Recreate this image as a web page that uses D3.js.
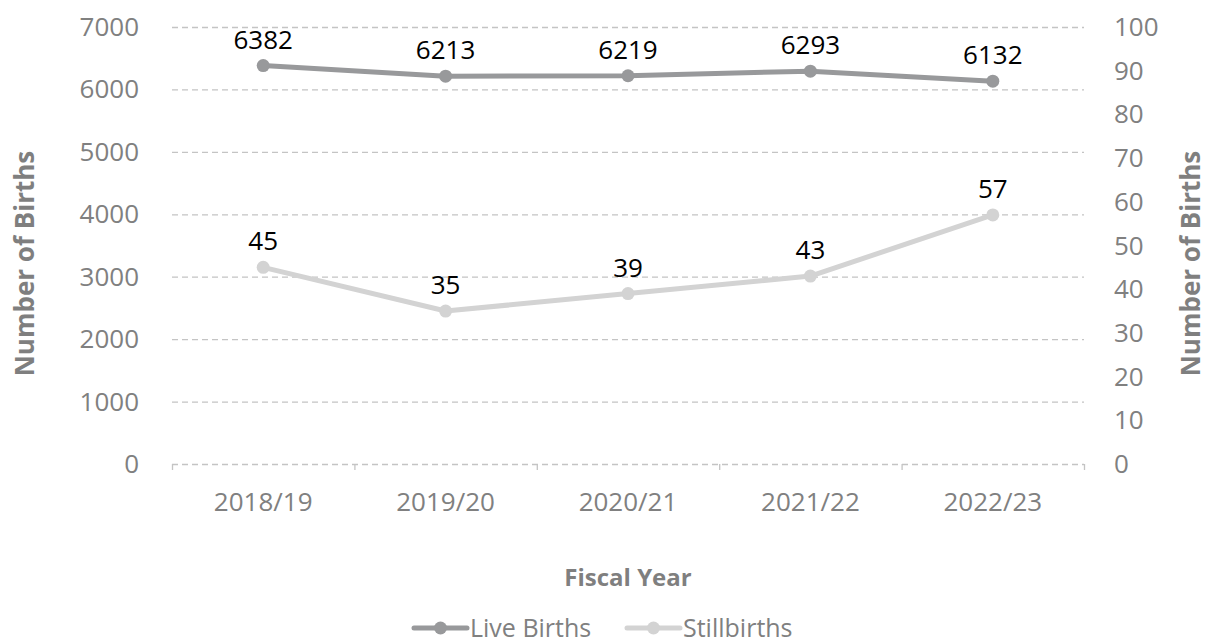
<!DOCTYPE html>
<html>
<head>
<meta charset="utf-8">
<script src="https://cdn.jsdelivr.net/npm/d3@7"></script>
<style>
  body { margin: 0; background: #fff; }
  text { font-family: "Open Sans", "Noto Sans", sans-serif; }
</style>
</head>
<body>
<div id="chart"></div>
<script>
const years = ["2018/19", "2019/20", "2020/21", "2021/22", "2022/23"];
const liveBirths = [6382, 6213, 6219, 6293, 6132];
const stillbirths = [45, 35, 39, 43, 57];
const leftTicks = [0, 1000, 2000, 3000, 4000, 5000, 6000, 7000];
const rightTicks = [0, 10, 20, 30, 40, 50, 60, 70, 80, 90, 100];

const COLORS = {
  LIVE: "#98999b",
  STILL: "#d3d3d3",
  GRID: "#c4c4c4",
  TICK_TEXT: "#808080",
  TITLE: "#7f7f7f",
};

const DIM = {
  WIDTH: 1207,
  HEIGHT: 643,
  LEFT: 172,
  RIGHT: 1084,
  TOP: 27,
  BOTTOM: 464,
};

const svg = d3.select("#chart")
  .append("svg")
  .attr("width", DIM.WIDTH)
  .attr("height", DIM.HEIGHT);

const x = d3.scaleBand().domain(years).range([DIM.LEFT, DIM.RIGHT]);
const yLeft = d3.scaleLinear().domain([0, 7000]).range([DIM.BOTTOM, DIM.TOP]);
const yRight = d3.scaleLinear().domain([0, 100]).range([DIM.BOTTOM, DIM.TOP]);
const cx = (d) => x(d) + x.bandwidth() / 2;

// gridlines
svg.append("g")
  .selectAll("line")
  .data(leftTicks)
  .enter()
  .append("line")
  .attr("x1", DIM.LEFT)
  .attr("x2", DIM.RIGHT)
  .attr("y1", (d) => yLeft(d) + 0.5)
  .attr("y2", (d) => yLeft(d) + 0.5)
  .attr("stroke", COLORS.GRID)
  .attr("stroke-width", 1.3)
  .attr("stroke-dasharray", "6,4");

// category ticks on the x axis
const boundaries = years.map((d) => x(d)).concat([DIM.RIGHT]);
svg.append("g")
  .selectAll("line")
  .data(boundaries)
  .enter()
  .append("line")
  .attr("x1", (d) => d + 0.5)
  .attr("x2", (d) => d + 0.5)
  .attr("y1", DIM.BOTTOM)
  .attr("y2", DIM.BOTTOM + 6)
  .attr("stroke", COLORS.GRID)
  .attr("stroke-width", 1.3);

// tick labels
svg.append("g")
  .selectAll("text")
  .data(leftTicks)
  .enter()
  .append("text")
  .attr("x", 139)
  .attr("y", (d) => yLeft(d) + 9)
  .attr("text-anchor", "end")
  .attr("fill", COLORS.TICK_TEXT)
  .style("font-size", "26px")
  .text((d) => d);

svg.append("g")
  .selectAll("text")
  .data(rightTicks)
  .enter()
  .append("text")
  .attr("x", 1114)
  .attr("y", (d) => yRight(d) + 9)
  .attr("text-anchor", "start")
  .attr("fill", COLORS.TICK_TEXT)
  .style("font-size", "26px")
  .text((d) => d);

svg.append("g")
  .selectAll("text")
  .data(years)
  .enter()
  .append("text")
  .attr("x", cx)
  .attr("y", 511)
  .attr("text-anchor", "middle")
  .attr("fill", COLORS.TICK_TEXT)
  .style("font-size", "26px")
  .text((d) => d);

// axis titles
svg.append("text")
  .attr("transform", `translate(34,${(DIM.TOP + DIM.BOTTOM) / 2 + 18}) rotate(-90)`)
  .attr("text-anchor", "middle")
  .attr("fill", COLORS.TITLE)
  .style("font-size", "26px")
  .style("font-weight", "bold")
  .text("Number of Births");

svg.append("text")
  .attr("transform", `translate(1200,${(DIM.TOP + DIM.BOTTOM) / 2 + 18}) rotate(-90)`)
  .attr("text-anchor", "middle")
  .attr("fill", COLORS.TITLE)
  .style("font-size", "26px")
  .style("font-weight", "bold")
  .text("Number of Births");

svg.append("text")
  .attr("x", (DIM.LEFT + DIM.RIGHT) / 2)
  .attr("y", 586)
  .attr("text-anchor", "middle")
  .attr("fill", COLORS.TITLE)
  .style("font-size", "24px")
  .style("font-weight", "bold")
  .text("Fiscal Year");

// series
const series = [
  { name: "Live Births", values: liveBirths, y: yLeft, color: COLORS.LIVE },
  { name: "Stillbirths", values: stillbirths, y: yRight, color: COLORS.STILL },
];

series.forEach((s) => {
  const pts = years.map((yr, i) => ({ yr, v: s.values[i] }));
  const line = d3.line().x((d) => cx(d.yr)).y((d) => s.y(d.v));

  svg.append("path")
    .datum(pts)
    .attr("d", line)
    .attr("fill", "none")
    .attr("stroke", s.color)
    .attr("stroke-width", 5)
    .attr("stroke-linejoin", "round");

  svg.append("g")
    .selectAll("circle")
    .data(pts)
    .enter()
    .append("circle")
    .attr("cx", (d) => cx(d.yr))
    .attr("cy", (d) => s.y(d.v))
    .attr("r", 6.5)
    .attr("fill", s.color);

  svg.append("g")
    .selectAll("text")
    .data(pts)
    .enter()
    .append("text")
    .attr("x", (d) => cx(d.yr))
    .attr("y", (d) => s.y(d.v) - 17)
    .attr("text-anchor", "middle")
    .attr("fill", "#000")
    .style("font-size", "26px")
    .text((d) => d.v);
});

// legend
const legend = svg.append("g").attr("transform", "translate(0,628)");
const legendItems = [
  { name: "Live Births", color: COLORS.LIVE, x: 414 },
  { name: "Stillbirths", color: COLORS.STILL, x: 627 },
];
legendItems.forEach((d) => {
  legend.append("line")
    .attr("x1", d.x)
    .attr("x2", d.x + 53)
    .attr("y1", 0)
    .attr("y2", 0)
    .attr("stroke", d.color)
    .attr("stroke-width", 5)
    .attr("stroke-linecap", "round");
  legend.append("circle")
    .attr("cx", d.x + 26.5)
    .attr("cy", 0)
    .attr("r", 6.5)
    .attr("fill", d.color);
  legend.append("text")
    .attr("x", d.x + 56)
    .attr("y", 9)
    .attr("fill", COLORS.TICK_TEXT)
    .style("font-size", "25px")
    .text(d.name);
});
</script>
</body>
</html>
